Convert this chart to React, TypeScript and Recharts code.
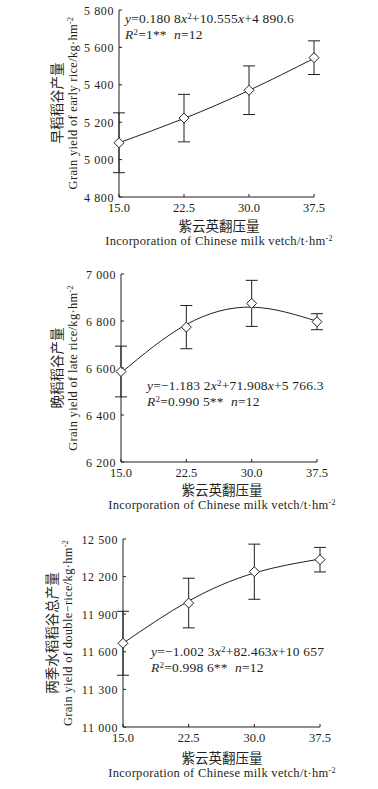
import React from "react";
import { LineChart, Line, XAxis, YAxis, ErrorBar } from "recharts";

// 紫云英翻压量 (t/hm2)
const doses = [15, 22.5, 30, 37.5];
const doseTicks = [15, 22.5, 30, 37.5];

// early rice
const earlyYield = [5090, 5222, 5371, 5545];
const earlyErr = [160, 127, 130, 90];
const earlyFit = [5090, 5220, 5370, 5541];
const earlyTicks = [4800, 5000, 5200, 5400, 5600, 5800];

// late rice
const lateYield = [6585, 6774, 6875, 6797];
const lateErr = [108, 92, 98, 34];
const lateFit = [6579, 6785, 6859, 6799];
const lateTicks = [6200, 6400, 6600, 6800, 7000];

// double rice total
const totalYield = [11668, 11989, 12239, 12335];
const totalErr = [255, 198, 220, 98];
const totalFit = [11668, 12005, 12229, 12340];
const totalTicks = [11000, 11300, 11600, 11900, 12200, 12500];

const INK = "#231f20";
const SERIF = "'Liberation Serif', 'DejaVu Serif', serif";
const CJK = "'Noto Sans CJK SC', sans-serif";

const YW = 60; // y axis width
const XH = 30; // x axis height

const fmtInt = (v: number) => String(v).replace(/\B(?=(\d{3})+(?!\d))/g, " ");

const XTick = (props: any) => {
  const { x, y, payload } = props;
  return (
    <g>
      <line x1={x} y1={y} x2={x} y2={y - 3} stroke={INK} />
      <text x={x} y={y + 15} textAnchor="middle" fontSize={12.5} fontFamily={SERIF} fill={INK}>
        {Number(payload.value).toFixed(1)}
      </text>
    </g>
  );
};

const YTick = (props: any) => {
  const { x, y, payload } = props;
  return (
    <g>
      <line x1={x} y1={y} x2={x + 3} y2={y} stroke={INK} />
      <text
        x={x - 5}
        y={y + 4.5}
        textAnchor="end"
        fontSize={12}
        letterSpacing={0.6}
        fontFamily={SERIF}
        fill={INK}
      >
        {fmtInt(payload.value)}
      </text>
    </g>
  );
};

const Diamond = (props: any) => {
  const { cx, cy } = props;
  if (cx == null || cy == null) return null;
  const r = 5;
  return (
    <polygon
      points={`${cx},${cy - r} ${cx + r},${cy} ${cx},${cy + r} ${cx - r},${cy}`}
      fill="#fff"
      stroke={INK}
      strokeWidth={1}
    />
  );
};

function build(yields: number[], errs: number[], fits: number[]) {
  return doses.map((d, i) => ({ x: d, y: yields[i], err: errs[i], fit: fits[i] }));
}

interface PanelProps {
  top: number;
  height: number;
  plot: { left: number; right: number; top: number; bottom: number };
  data: any[];
  domain: [number, number];
  ticks: number[];
}

function Panel({ top, height, plot, data, domain, ticks }: PanelProps) {
  const margin = {
    top: plot.top,
    left: plot.left - YW,
    right: 378 - plot.right,
    bottom: height - plot.bottom - XH,
  };
  return (
    <div style={{ position: "absolute", left: 0, top, width: 378, height }}>
      <LineChart width={378} height={height} data={data} margin={margin}>
        <XAxis
          dataKey="x"
          type="number"
          domain={[15, 37.5]}
          ticks={doseTicks}
          tickSize={0}
          tickMargin={0}
          tick={<XTick />}
          stroke={INK}
          height={XH}
          interval={0}
        />
        <YAxis
          type="number"
          domain={domain}
          ticks={ticks}
          tickSize={0}
          tickMargin={0}
          tick={<YTick />}
          stroke={INK}
          width={YW}
          interval={0}
        />
        <Line
          dataKey="fit"
          type="natural"
          stroke={INK}
          strokeWidth={1}
          dot={false}
          activeDot={false}
          isAnimationActive={false}
        />
        <Line
          dataKey="y"
          stroke="none"
          dot={<Diamond />}
          activeDot={false}
          isAnimationActive={false}
        >
          <ErrorBar dataKey="err" width={6} stroke={INK} strokeWidth={1} />
        </Line>
      </LineChart>
    </div>
  );
}

const abs = (left: number, top: number, extra: React.CSSProperties = {}): React.CSSProperties => ({
  position: "absolute",
  left,
  top,
  whiteSpace: "nowrap",
  color: INK,
  lineHeight: 1,
  ...extra,
});

const supStyle = (size: number): React.CSSProperties => ({ fontSize: size, lineHeight: 0, verticalAlign: "0.45em" });

function YLabel({ cx, cy, cn, en }: { cx: number; cy: number; cn: string; en: string }) {
  return (
    <>
      <div style={abs(cx, cy, { fontFamily: CJK, fontSize: 13.5, transform: "translate(-50%,-50%) rotate(-90deg)" })}>
        {cn}
      </div>
      <div
        style={abs(cx + 16, cy, {
          fontFamily: SERIF,
          fontSize: 12.5,
          letterSpacing: 0.3,
          transform: "translate(-50%,-50%) rotate(-90deg)",
        })}
      >
        {en}/kg·hm<span style={supStyle(8)}>-2</span>
      </div>
    </>
  );
}

function XLabel({ cx, top }: { cx: number; top: number }) {
  return (
    <>
      <div style={abs(cx, top, { fontFamily: CJK, fontSize: 13.5, transform: "translateX(-50%)" })}>紫云英翻压量</div>
      <div
        style={abs(cx, top + 16, {
          fontFamily: SERIF,
          fontSize: 12.5,
          letterSpacing: 0.3,
          transform: "translateX(-50%)",
        })}
      >
        Incorporation of Chinese milk vetch/t·hm<span style={supStyle(8)}>-2</span>
      </div>
    </>
  );
}

function Eq({ left, top, a, b }: { left: number; top: number; a: React.ReactNode; b: React.ReactNode }) {
  return (
    <>
      <div style={abs(left, top, { fontFamily: SERIF, fontSize: 13.5, letterSpacing: 0.2 })}>{a}</div>
      <div style={abs(left, top + 16, { fontFamily: SERIF, fontSize: 13.5, letterSpacing: 0.2 })}>{b}</div>
    </>
  );
}

const sup = (t: string) => <span style={supStyle(9)}>{t}</span>;

export default function App() {
  return (
    <div style={{ position: "absolute", left: 0, top: 0, width: 378, height: 789, background: "#fff" }}>
      <Panel
        top={0}
        height={250}
        plot={{ left: 119, right: 314, top: 10, bottom: 197 }}
        data={build(earlyYield, earlyErr, earlyFit)}
        domain={[4800, 5800]}
        ticks={earlyTicks}
      />
      <Panel
        top={250}
        height={260}
        plot={{ left: 121, right: 317, top: 24, bottom: 212 }}
        data={build(lateYield, lateErr, lateFit)}
        domain={[6200, 7000]}
        ticks={lateTicks}
      />
      <Panel
        top={510}
        height={279}
        plot={{ left: 123, right: 320, top: 29, bottom: 217 }}
        data={build(totalYield, totalErr, totalFit)}
        domain={[11000, 12500]}
        ticks={totalTicks}
      />

      <YLabel cx={57} cy={103} cn="早稻稻谷产量" en="Grain yield of early rice" />
      <YLabel cx={57} cy={368} cn="晚稻稻谷产量" en="Grain yield of late rice" />
      <YLabel cx={52} cy={633} cn="两季水稻稻谷总产量" en="Grain yield of double−rice" />

      <XLabel cx={219} top={219} />
      <XLabel cx={222} top={483} />
      <XLabel cx={222} top={751} />

      <Eq
        left={125}
        top={12}
        a={<><i>y</i>=0.180 8<i>x</i>{sup("2")}+10.555<i>x</i>+4 890.6</>}
        b={<><i>R</i>{sup("2")}=1**&nbsp;&nbsp;<i>n</i>=12</>}
      />
      <Eq
        left={147}
        top={379}
        a={<><i>y</i>=−1.183 2<i>x</i>{sup("2")}+71.908<i>x</i>+5 766.3</>}
        b={<><i>R</i>{sup("2")}=0.990 5**&nbsp;&nbsp;<i>n</i>=12</>}
      />
      <Eq
        left={151}
        top={645}
        a={<><i>y</i>=−1.002 3<i>x</i>{sup("2")}+82.463<i>x</i>+10 657</>}
        b={<><i>R</i>{sup("2")}=0.998 6**&nbsp;&nbsp;<i>n</i>=12</>}
      />
    </div>
  );
}
